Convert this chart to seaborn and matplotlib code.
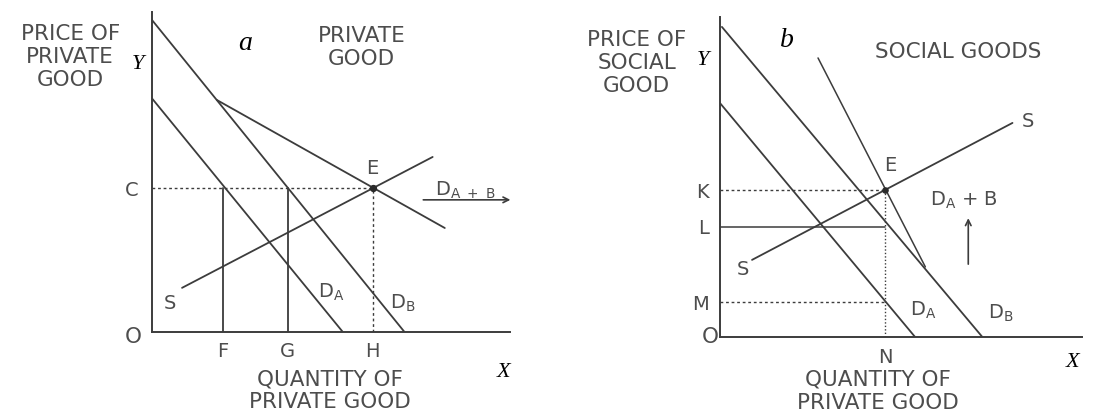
import matplotlib
matplotlib.use("Agg")
import matplotlib.pyplot as plt
import seaborn as sns

# ---------------------------------------------------------------------------
# Data (quantity / price units)
# ---------------------------------------------------------------------------
# Panel a: private good
da_l_q, da_l_p = [0, 5.97], [7.3, 0]
db_l_q, db_l_p = [0, 7.9], [9.75, 0]
dab_l_q, dab_l_p = [2.03, 9.16], [7.25, 3.25]
s_l_q, s_l_p = [0.94, 8.78], [1.38, 5.47]
price_c = 4.5
qty_fgh = [2.22, 4.25, 6.9]
qty_fgh_labels = ["F", "G", "H"]

# Panel b: social goods
da_r_q, da_r_p = [0, 6.09], [7.31, 0]
db_r_q, db_r_p = [0.06, 8.19], [9.69, 0]
dab_r_q, dab_r_p = [3.06, 6.41], [8.72, 2.19]
s_r_q, s_r_p = [1.0, 9.13], [2.41, 6.69]
price_klm = [4.59, 3.44, 1.09]
price_klm_labels = ["K", "L", "M"]
qty_n = 5.16

LINE = "#3c3c3c"
TXT = "#4d4d4d"
W, H = 1102, 415

sns.set_style("white")
plt.rcParams["font.family"] = ["DejaVu Sans"]
plt.rcParams["mathtext.default"] = "regular"

fig = plt.figure(figsize=(W / 100, H / 100), dpi=100)
ax_l = fig.add_axes([152 / W, (H - 332) / H, 358 / W, 320 / H])
ax_r = fig.add_axes([720 / W, (H - 337) / H, 362 / W, 320 / H])


def line(ax, q, p, **kw):
    sns.lineplot(x=q, y=p, ax=ax, color=kw.pop("color", LINE),
                 lw=kw.pop("lw", 1.3), sort=False, estimator=None, **kw)


def setup(ax, xmax):
    ax.set_xlim(0, xmax)
    ax.set_ylim(0, 10)
    ax.spines[["top", "right"]].set_visible(False)
    for sp in ["left", "bottom"]:
        ax.spines[sp].set_color(LINE)
        ax.spines[sp].set_linewidth(1.4)
    ax.tick_params(length=0, labelsize=14, labelcolor=TXT)


def txt(ax, x, y, s, size=15.5, **kw):
    ax.text(x, y, s, fontsize=size, color=kw.pop("color", TXT),
            ha=kw.pop("ha", "center"), va=kw.pop("va", "center"),
            clip_on=False, **kw)


# ---- panel a ----
setup(ax_l, 11.2)
line(ax_l, db_l_q, db_l_p)
line(ax_l, da_l_q, da_l_p)
line(ax_l, dab_l_q, dab_l_p)
line(ax_l, s_l_q, s_l_p)
e_l = qty_fgh[2]
line(ax_l, [0, e_l], [price_c, price_c], ls=(0, (2, 2)), lw=1.0)
line(ax_l, [e_l, e_l], [0, price_c], ls=(0, (2, 2)), lw=1.0)
for q in qty_fgh[:2]:
    line(ax_l, [q, q], [0, price_c])
ax_l.scatter([e_l], [price_c], s=18, color="#2a2a2a", zorder=5)
ax_l.set_yticks([price_c], ["C"])
ax_l.set_xticks(qty_fgh, qty_fgh_labels)
ax_l.tick_params(axis="y", pad=10)
ax_l.tick_params(axis="x", pad=7)

txt(ax_l, -0.6, -0.15, "O")
txt(ax_l, -2.56, 8.6, "PRICE OF\nPRIVATE\nGOOD", linespacing=1.2)
txt(ax_l, 6.56, 8.9, "PRIVATE\nGOOD", linespacing=1.2)
txt(ax_l, 5.56, -1.84, "QUANTITY OF\nPRIVATE GOOD", linespacing=1.2)
txt(ax_l, 6.9, 5.12, "E", 14)
txt(ax_l, 0.56, 0.9, "S", 14)
txt(ax_l, 5.6, 1.25, "$D_A$", 14)
txt(ax_l, 7.85, 0.9, "$D_B$", 14)
txt(ax_l, 9.8, 4.44, "$D_{A\\ +\\ B}$", 14)
ax_l.annotate("", xy=(11.3, 4.13), xytext=(8.4, 4.13), annotation_clip=False,
              arrowprops=dict(arrowstyle="->", color=LINE, lw=1.2))
txt(ax_l, 2.9, 9.0, "a", 20, color="black", family="Liberation Serif", style="italic")
txt(ax_l, -0.44, 8.35, "Y", 16, color="black", family="Liberation Serif", style="italic")
txt(ax_l, 11.0, -1.28, "X", 16, color="black", family="Liberation Serif", style="italic")

# ---- panel b ----
setup(ax_r, 11.3)
line(ax_r, db_r_q, db_r_p)
line(ax_r, da_r_q, da_r_p)
line(ax_r, dab_r_q, dab_r_p, lw=1.1)
line(ax_r, s_r_q, s_r_p)
for p, lab in zip(price_klm, price_klm_labels):
    if lab == "L":
        line(ax_r, [0, qty_n], [p, p], lw=1.1)
    else:
        line(ax_r, [0, qty_n], [p, p], ls=(0, (2, 2)), lw=1.0)
line(ax_r, [qty_n, qty_n], [0, price_klm[0]], ls=(0, (1, 1.5)), lw=1.0)
ax_r.scatter([qty_n], [price_klm[0]], s=14, color="#2a2a2a", zorder=5)
ax_r.set_yticks(price_klm, price_klm_labels)
ax_r.set_xticks([qty_n], ["N"])
ax_r.tick_params(axis="y", pad=8)
ax_r.tick_params(axis="x", pad=8)

txt(ax_r, -0.3, 0.0, "O")
txt(ax_r, -2.6, 8.56, "PRICE OF\nSOCIAL\nGOOD", linespacing=1.2)
txt(ax_r, 7.44, 8.9, "SOCIAL GOODS")
txt(ax_r, 4.94, -1.69, "QUANTITY OF\nPRIVATE GOOD", linespacing=1.2)
txt(ax_r, 5.3, 5.37, "E", 14)
txt(ax_r, 0.72, 2.1, "S", 14)
txt(ax_r, 9.6, 6.72, "S", 14)
txt(ax_r, 7.6, 4.28, "$D_A$ + B", 14)
ax_r.annotate("", xy=(7.75, 3.8), xytext=(7.75, 2.19), annotation_clip=False,
              arrowprops=dict(arrowstyle="->", color=LINE, lw=1.2))
txt(ax_r, 6.34, 0.84, "$D_A$", 14)
txt(ax_r, 8.75, 0.75, "$D_B$", 14)
txt(ax_r, 2.1, 9.28, "b", 20, color="black", family="Liberation Serif", style="italic")
txt(ax_r, -0.53, 8.65, "Y", 16, color="black", family="Liberation Serif", style="italic")
txt(ax_r, 11.0, -0.8, "X", 16, color="black", family="Liberation Serif", style="italic")

fig.savefig("out.png", dpi=100)
